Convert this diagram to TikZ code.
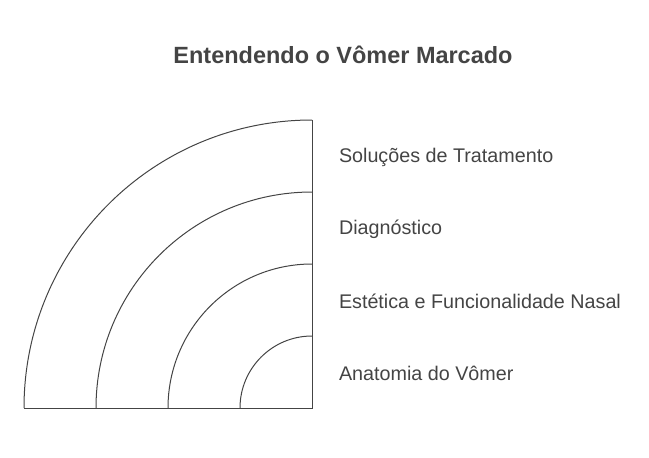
\documentclass[tikz,border=0pt]{standalone}
\usepackage{fontspec}
\setmainfont{Liberation Sans}
\definecolor{inkgray}{RGB}{68,68,68}
\tikzset{every picture/.style={line width=0.75pt}}
\tikzset{
  ringline/.style={color=inkgray, line width=0.75pt},
  ringlabel/.style={anchor=west, inner sep=0.75pt, text=inkgray, font=\fontsize{14.8}{18}\selectfont},
}

\begin{document}
\begin{tikzpicture}[x=0.75pt,y=0.75pt,yscale=-1,xscale=1]
\useasboundingbox (0,0) rectangle (649,457);

%Center of the rings
\coordinate (ctr) at (312,408);
\coordinate (top) at (312,120);
\coordinate (left) at (24,408);

%Quarter rings
\foreach \r in {72,144,216,288}
  \draw [ringline] (312-\r,408) arc [start angle=180, end angle=270, radius=\r];
%Axis lines
\draw [ringline] (left) -- (ctr) -- (top) ;

% Title Node
\node (title) at (343,55) [inner sep=0.75pt, text=inkgray, font=\bfseries\fontsize{17.6}{21}\selectfont] {Entendendo o Vômer Marcado};
% Text Nodes
\node (solucoes) at (337.5,157) [ringlabel] {Soluções de Tratamento};
\node (diagnostico) at (337.5,229) [ringlabel] {Diagnóstico};
\node (estetica) at (337.5,301) [ringlabel] {Estética e Funcionalidade Nasal};
\node (anatomia) at (337.5,373) [ringlabel] {Anatomia do Vômer};

\end{tikzpicture}
\end{document}
